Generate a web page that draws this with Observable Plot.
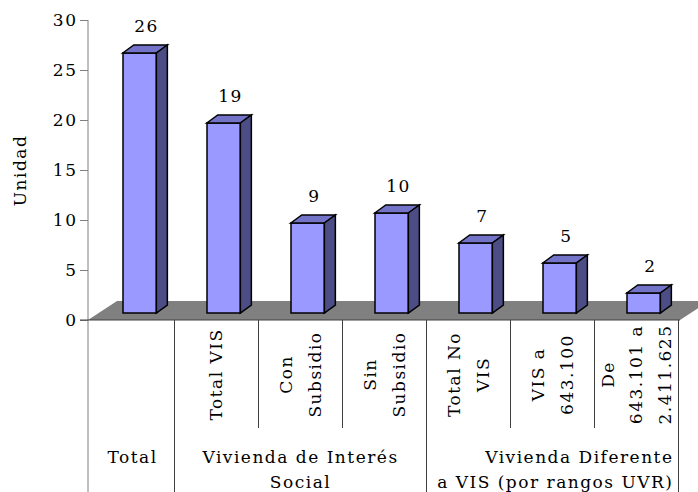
<!DOCTYPE html>
<html><head><meta charset="utf-8">
<script src="https://cdn.jsdelivr.net/npm/d3@7"></script>
<script src="https://cdn.jsdelivr.net/npm/@observablehq/plot@0.6"></script>
<style>html,body{margin:0;padding:0;background:#fff;overflow:hidden}</style>
</head><body><div id="chart"></div>
<script>
const categories = ["Total", "Total VIS", "Con\nSubsidio", "Sin\nSubsidio", "Total No\nVIS", "VIS a\n643.100", "De\n643.101 a\n2.411.625"];
const values = [26, 19, 9, 10, 7, 5, 2];
const groupLabels = ["Total", "Vivienda de Interés\nSocial", "Vivienda Diferente\na VIS (por rangos UVR)"];
const groupFirst = [0, 1, 4];
const groupLast = [0, 3, 6];
const yTicks = [0, 5, 10, 15, 20, 25, 30];
const yLabel = "Unidad";

const data = categories.map((c, i) => ({category: c, value: values[i]}));
const groups = groupLabels.map((g, i) => ({label: g, first: groupFirst[i], last: groupLast[i], mid: categories[Math.round((groupFirst[i] + groupLast[i]) / 2)]}));

const FRONT = "#9999FF", TOP = "#7373C8", SIDE = "#4D4D85";
const DEPTH_X = 11, DEPTH_Y = -8, LIFT = 7;
const FLOOR_X = 29, FLOOR_Y = -19;
const FONT = "DejaVu Serif";
const FS = 17;

function bandwidthOf(scales) {
  const x = scales.x;
  if (typeof x.bandwidth === "function") return x.bandwidth();
  if (typeof x.bandwidth === "number") return x.bandwidth;
  if (scales.scales && scales.scales.x) return scales.scales.x.bandwidth;
  return 0;
}

// floor (gray parallelogram)
const floor = (index, scales, values_, dims) => {
  const y0 = scales.y(0);
  const xl = dims.marginLeft, xr = dims.width - dims.marginRight;
  const g = d3.create("svg:g");
  g.append("path").attr("fill", "#808080")
    .attr("d", `M${xl},${y0}L${xr},${y0}L${xr + FLOOR_X},${y0 + FLOOR_Y}L${xl + FLOOR_X},${y0 + FLOOR_Y}Z`);
  return g.node();
};

// top and side faces of the 3D bars
const faces = (index, scales) => {
  const x = scales.x, y = scales.y, bw = bandwidthOf(scales);
  const g = d3.create("svg:g").attr("stroke", "#000").attr("stroke-width", 1.5).attr("stroke-linejoin", "miter");
  data.forEach(d => {
    const x0 = x(d.category) + bw * 0.39, x1 = x0 + bw * 0.40;
    const yb = y(0) - LIFT, yt = y(d.value) - LIFT;
    g.append("path").attr("fill", TOP)
      .attr("d", `M${x0},${yt}L${x0 + DEPTH_X},${yt + DEPTH_Y}L${x1 + DEPTH_X},${yt + DEPTH_Y}L${x1},${yt}Z`);
    g.append("path").attr("fill", SIDE)
      .attr("d", `M${x1},${yt}L${x1 + DEPTH_X},${yt + DEPTH_Y}L${x1 + DEPTH_X},${yb + DEPTH_Y}L${x1},${yb}Z`);
  });
  return g.node();
};

// table grid below the plot
const table = (index, scales, values_, dims) => {
  const x = scales.x, y = scales.y, bw = bandwidthOf(scales);
  const y0 = y(0), yTop = y(30), yEnd = dims.height;
  const g = d3.create("svg:g").attr("fill", "none");
  g.append("line").attr("x1", dims.marginLeft).attr("x2", dims.marginLeft).attr("y1", yTop).attr("y2", yEnd).attr("stroke", "#808080");
  g.append("line").attr("x1", dims.marginLeft - 8).attr("x2", dims.width - dims.marginRight).attr("y1", y0).attr("y2", y0).attr("stroke", "#404040");
  const gridLines = g.append("g").attr("stroke", "#404040");
  categories.forEach((c, i) => {
    if (i === 0) return;
    const xs = Math.round(x(c)) + 0.5;
    const isGroupStart = groupFirst.includes(i);
    gridLines.append("line").attr("x1", xs).attr("x2", xs).attr("y1", y0).attr("y2", isGroupStart ? yEnd : y0 + 108);
  });
  const xr = Math.round(x(categories[categories.length - 1]) + bw) + 0.5;
  gridLines.append("line").attr("x1", xr).attr("x2", xr).attr("y1", y0).attr("y2", yEnd);
  return g.node();
};

const chart = Plot.plot({
  width: 698,
  height: 492,
  marginLeft: 88,
  marginRight: 18,
  marginTop: 20,
  marginBottom: 172,
  style: {fontFamily: FONT, fontSize: FS + "px", background: "#fff", color: "#000", letterSpacing: "1.5px"},
  x: {domain: categories, padding: 0, axis: null},
  y: {domain: [0, 30], axis: null},
  marks: [
    floor,
    Plot.axisY({ticks: yTicks, tickSize: 8, tickPadding: 3, fontSize: FS, stroke: "#808080", label: null, color: "#000"}),
    Plot.barY(data, {x: "category", y: "value", fill: FRONT, stroke: "#000", strokeWidth: 1.5, insetLeft: 33, insetRight: 17.6, dy: -LIFT}),
    faces,
    Plot.text(data, {x: "category", y: "value", text: d => String(d.value), dx: 14, dy: -34, fontSize: FS, fill: "#000"}),
    table,
    Plot.text([yLabel], {frameAnchor: "left", text: d => d, rotate: -90, textAnchor: "middle", dx: -68, fontSize: FS, fill: "#000"}),
    Plot.text(data.slice(1), {x: "category", text: "category", frameAnchor: "bottom", rotate: -90, textAnchor: "middle", lineAnchor: "middle", dx: -3, dy: 54, lineHeight: 1.65, fontSize: FS, fill: "#000"}),
    Plot.text(groups.slice(0, 2), {x: "mid", text: "label", frameAnchor: "bottom", lineAnchor: "top", textAnchor: "middle", dy: 125, lineHeight: 1.47, fontSize: FS, fill: "#000"}),
    Plot.text(groups.slice(2), {x: "mid", text: "label", frameAnchor: "bottom", lineAnchor: "top", textAnchor: "end", dy: 125, dx: 121, lineHeight: 1.47, fontSize: FS, fill: "#000"})
  ]
});
document.getElementById("chart").appendChild(chart);
</script>
</body></html>
